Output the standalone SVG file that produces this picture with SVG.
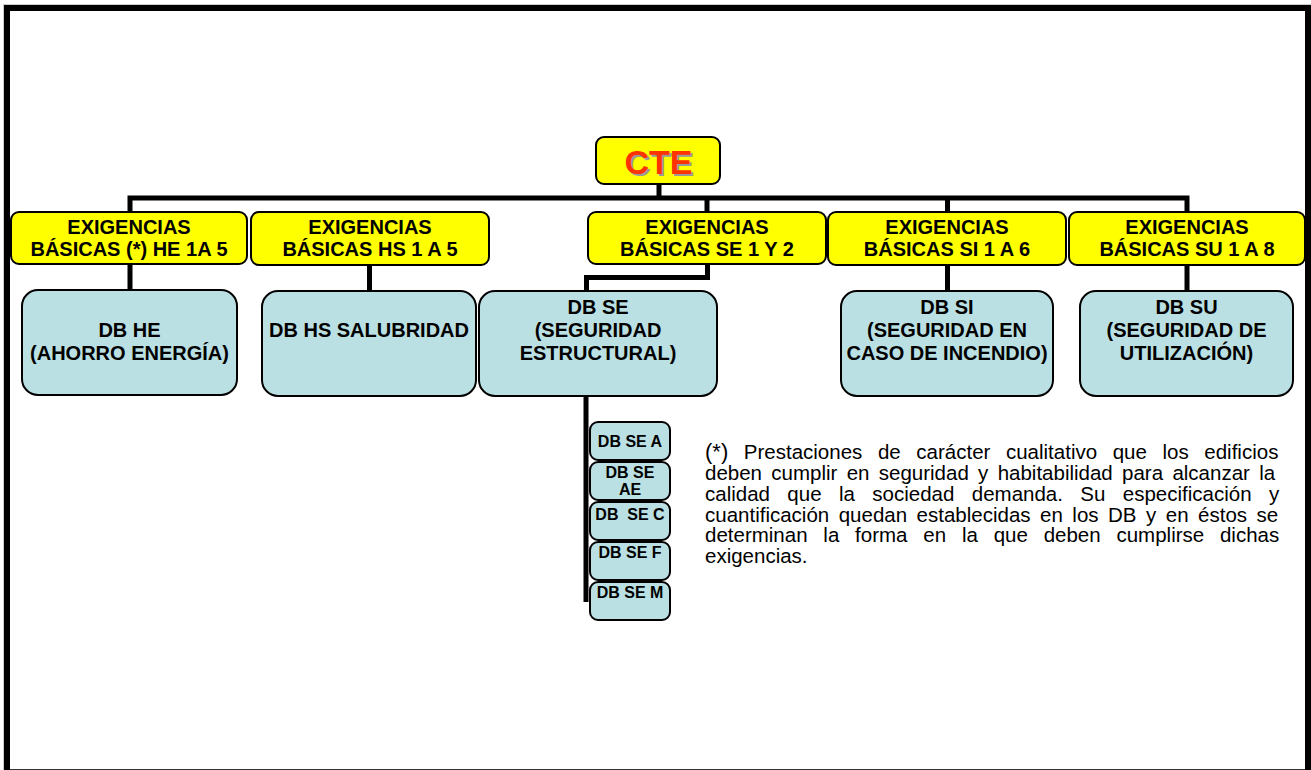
<svg xmlns="http://www.w3.org/2000/svg" width="1311" height="770" viewBox="0 0 1311 770">
<style>
.frame{fill:#ffffff;stroke:#000000;stroke-width:6}
.yel{fill:#ffff00;stroke:#000000;stroke-width:2}
.blu{fill:#bbe0e3;stroke:#000000;stroke-width:2}
.conn{fill:none;stroke:#000000;stroke-width:5;stroke-linejoin:miter;stroke-linecap:butt}
.lbl{font-family:"Liberation Sans",Arial,sans-serif;font-weight:bold;font-size:20px;fill:#000000;text-anchor:middle}
.sm{font-family:"Liberation Sans",Arial,sans-serif;font-weight:bold;font-size:16px;fill:#000000;text-anchor:middle}
.note{font-family:"Liberation Sans",Arial,sans-serif;font-size:20.5px;fill:#000000}
.cte{font-family:"Liberation Sans",Arial,sans-serif;font-weight:bold;font-size:34px;text-anchor:middle}
</style>
<rect x="0" y="0" width="1311" height="770" fill="#ffffff"/>
<rect x="3.5" y="4.5" width="1310" height="770" fill="none" stroke="#cccccc" stroke-width="1"/>
<rect class="frame" x="7" y="8" width="1301" height="770"/>
<line x1="10" y1="769.5" x2="1305" y2="769.5" stroke="#333333" stroke-width="1"/>

<g id="connectors">
  <polyline class="conn" points="659,184 659,198"/>
  <polyline class="conn" points="130,212 130,198 1187,198 1187,212"/>
  <polyline class="conn" points="707,198 707,212"/>
  <polyline class="conn" points="947.5,198 947.5,212"/>
  <polyline class="conn" points="130,264 130,290"/>
  <polyline class="conn" points="369.5,265 369.5,291"/>
  <polyline class="conn" points="707.5,264 707.5,277.5 586.5,277.5 586.5,291"/>
  <polyline class="conn" points="947.5,265 947.5,291"/>
  <polyline class="conn" points="1187,265 1187,291"/>
  <polyline class="conn" points="586,396 586,602"/>
</g>

<g id="cte">
  <rect class="yel" x="596" y="137" width="124" height="47" rx="8"/>
  <text class="cte" x="660.5" y="175.5" fill="#999999">CTE</text>
  <text class="cte" x="658.5" y="173.5" fill="#ff3300">CTE</text>
</g>

<g id="exig-he">
  <rect class="yel" x="11" y="212" width="236" height="52" rx="8"/>
  <text class="lbl" x="129" y="234">EXIGENCIAS</text>
  <text class="lbl" x="129" y="256">BÁSICAS (*) HE 1A 5</text>
</g>
<g id="exig-hs">
  <rect class="yel" x="251" y="212" width="238" height="53" rx="8"/>
  <text class="lbl" x="370" y="234">EXIGENCIAS</text>
  <text class="lbl" x="370" y="256">BÁSICAS HS 1 A 5</text>
</g>
<g id="exig-se">
  <rect class="yel" x="588" y="212" width="238" height="52" rx="8"/>
  <text class="lbl" x="707" y="234">EXIGENCIAS</text>
  <text class="lbl" x="707" y="256">BÁSICAS SE 1 Y 2</text>
</g>
<g id="exig-si">
  <rect class="yel" x="828" y="212" width="238" height="53" rx="8"/>
  <text class="lbl" x="947" y="234">EXIGENCIAS</text>
  <text class="lbl" x="947" y="256">BÁSICAS SI 1 A 6</text>
</g>
<g id="exig-su">
  <rect class="yel" x="1069" y="212" width="236" height="53" rx="8"/>
  <text class="lbl" x="1187" y="234">EXIGENCIAS</text>
  <text class="lbl" x="1187" y="256">BÁSICAS SU 1 A 8</text>
</g>

<g id="db-he">
  <rect class="blu" x="22" y="290" width="215" height="105" rx="16"/>
  <text class="lbl" x="129.5" y="337">DB HE</text>
  <text class="lbl" x="129.5" y="360">(AHORRO ENERGÍA)</text>
</g>
<g id="db-hs">
  <rect class="blu" x="262" y="291" width="214" height="105" rx="16"/>
  <text class="lbl" x="369" y="337">DB HS SALUBRIDAD</text>
</g>
<g id="db-se">
  <rect class="blu" x="479" y="291" width="238" height="105" rx="16"/>
  <text class="lbl" x="598" y="314">DB SE</text>
  <text class="lbl" x="598" y="337">(SEGURIDAD</text>
  <text class="lbl" x="598" y="360">ESTRUCTURAL)</text>
</g>
<g id="db-si">
  <rect class="blu" x="841" y="291" width="212" height="105" rx="16"/>
  <text class="lbl" x="947" y="314">DB SI</text>
  <text class="lbl" x="947" y="337">(SEGURIDAD EN</text>
  <text class="lbl" x="947" y="360">CASO DE INCENDIO)</text>
</g>
<g id="db-su">
  <rect class="blu" x="1080" y="291" width="213" height="105" rx="16"/>
  <text class="lbl" x="1186.5" y="314">DB SU</text>
  <text class="lbl" x="1186.5" y="337">(SEGURIDAD DE</text>
  <text class="lbl" x="1186.5" y="360">UTILIZACIÓN)</text>
</g>

<g id="db-se-a">
  <rect class="blu" x="590" y="422" width="80" height="38" rx="8"/>
  <text class="sm" x="630" y="447">DB SE A</text>
</g>
<g id="db-se-ae">
  <rect class="blu" x="590" y="462" width="80" height="38" rx="8"/>
  <text class="sm" x="630" y="478">DB SE</text>
  <text class="sm" x="630" y="495">AE</text>
</g>
<g id="db-se-c">
  <rect class="blu" x="590" y="502" width="80" height="38" rx="8"/>
  <text class="sm" x="630" y="520" style="white-space:pre">DB  SE C</text>
</g>
<g id="db-se-f">
  <rect class="blu" x="590" y="542" width="80" height="38" rx="8"/>
  <text class="sm" x="630" y="558">DB SE F</text>
</g>
<g id="db-se-m">
  <rect class="blu" x="590" y="582" width="80" height="38" rx="8"/>
  <text class="sm" x="630" y="598">DB SE M</text>
</g>

<g id="footnote">
  <text class="note" x="705" y="459" style="word-spacing:9.9px"><tspan font-size="22px">(*)</tspan> Prestaciones de carácter cualitativo que los edificios</text>
  <text class="note" x="705" y="480" style="word-spacing:3.6px">deben cumplir en seguridad y habitabilidad para alcanzar la</text>
  <text class="note" x="705" y="501" style="word-spacing:11.7px">calidad que la sociedad demanda. Su especificación y</text>
  <text class="note" x="705" y="522" style="word-spacing:3.8px">cuantificación quedan establecidas en los DB y en éstos se</text>
  <text class="note" x="705" y="542" style="word-spacing:10.1px">determinan la forma en la que deben cumplirse dichas</text>
  <text class="note" x="705" y="563">exigencias.</text>
</g>
</svg>
